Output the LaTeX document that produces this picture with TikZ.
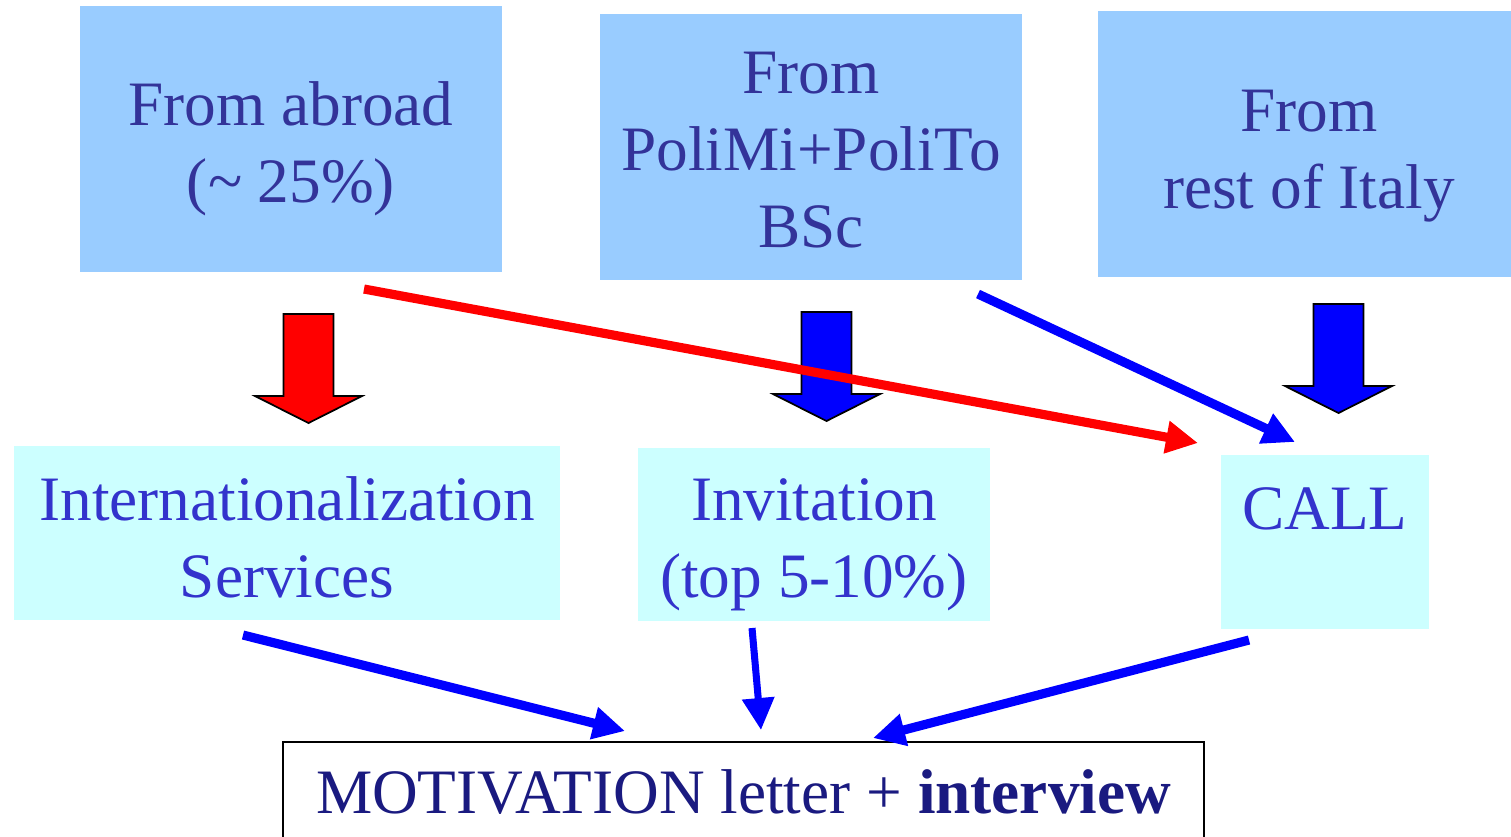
\documentclass[tikz,border=0pt]{standalone}
\usepackage{fontspec}
\setmainfont{Liberation Serif}
\usetikzlibrary{arrows.meta}
\definecolor{boxblue}{HTML}{99CCFF}
\definecolor{boxcyan}{HTML}{CCFFFF}
\definecolor{inktop}{HTML}{333399}
\definecolor{inkmid}{HTML}{3333CC}
\definecolor{inklow}{HTML}{1A1A80}

\begin{document}
\begin{tikzpicture}[
    origin/.style={fill=boxblue, text=inktop, minimum width=4.22cm, inner sep=0pt, align=center, font=\fontsize{18}{21.8}\selectfont},
    route/.style={fill=boxcyan, text=inkmid, inner sep=0pt, align=center, font=\fontsize{18}{21.8}\selectfont},
    flow/.style={line width=2.6pt, -{Triangle[length=3.2mm, width=3.1mm]}}
]
    \useasboundingbox (0,0) rectangle (15.11,-8.36);

    \node [origin, text height=1.96cm, text depth=0.70cm] (abroad) at (2.91,-1.39) {From abroad\\(\textasciitilde\ 25\%)};
    \node [origin, text height=2.33cm, text depth=0.33cm] (poli) at (8.11,-1.47) {From\\PoliMi+PoliTo\\BSc};
    \node [origin, text height=1.97cm, text depth=0.69cm] (italy) at (13.09,-1.44) {From\\rest of Italy};

    \node [route, minimum width=5.46cm, text height=1.51cm, text depth=0.23cm] (intl) at (2.87,-5.33) {Internationalization\\Services};
    \node [route, minimum width=3.52cm, text height=1.49cm, text depth=0.24cm] (invit) at (8.14,-5.345) {Invitation\\(top 5-10\%)};
    \node [route, minimum width=2.08cm, text height=0.74cm, text depth=1.0cm] (call) at (13.25,-5.42) {CALL};

    \node [draw, line width=0.6pt, text=inklow, minimum width=9.21cm, minimum height=1.0cm, anchor=north, font=\fontsize{18}{21.8}\selectfont] (motiv) at (7.435,-7.41) {MOTIVATION letter + \textbf{interview}};

    % fat arrows
    \foreach \cx/\ytop/\col in {3.085/3.14/red, 8.265/3.12/blue, 13.385/3.04/blue}
        \draw[fill=\col, line width=0.5pt] (\cx-0.25,-\ytop) -- ++(0.5,0) -- ++(0,-0.82) -- ++(0.285,0)
            -- (\cx,-\ytop-1.09) -- (\cx-0.535,-\ytop-0.82) -- (\cx-0.25,-\ytop-0.82) -- cycle;

    \coordinate (as1) at (3.64,-2.89);
    \coordinate (ae1) at (11.98,-4.43);
    \coordinate (as2) at (9.78,-2.94);
    \coordinate (ae2) at (12.95,-4.42);
    \coordinate (as3) at (2.43,-6.35);
    \coordinate (ae3) at (6.25,-7.31);
    \coordinate (as4) at (7.52,-6.28);
    \coordinate (ae4) at (7.61,-7.30);
    \coordinate (as5) at (12.49,-6.40);
    \coordinate (ae5) at (8.73,-7.38);

    \path[flow, blue]
                (as2) edge (ae2)
                (as3) edge (ae3)
                (as5) edge (ae5);
    \path[flow, blue, line width=2pt]
                (as4) edge (ae4);
    \path[flow, red]
                (as1) edge (ae1);
\end{tikzpicture}
\end{document}
